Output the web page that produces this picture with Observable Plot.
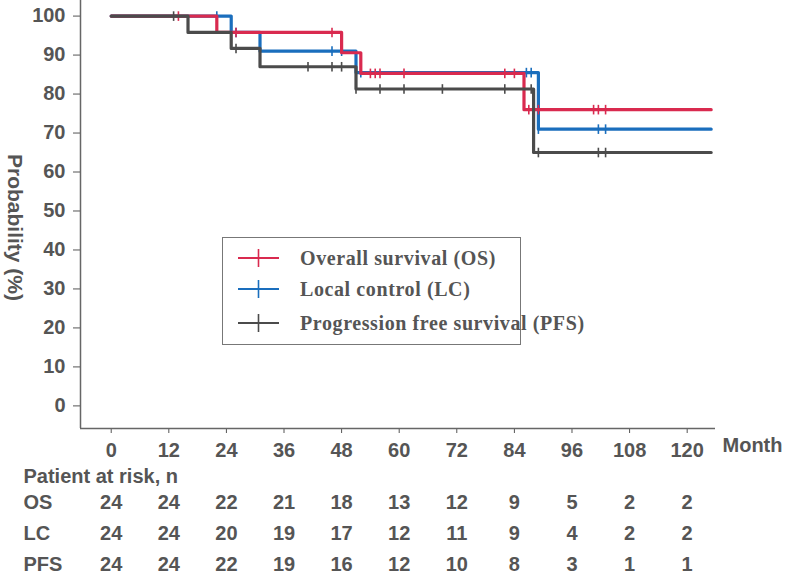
<!DOCTYPE html>
<html>
<head>
<meta charset="utf-8">
<script src="https://cdn.jsdelivr.net/npm/d3@7"></script>
<script src="https://cdn.jsdelivr.net/npm/@observablehq/plot@0.6"></script>
<style>
  body { margin: 0; background: #fff; }
  #wrap { position: relative; width: 787px; height: 574px; overflow: hidden; }
  #legend {
    position: absolute; left: 222px; top: 237px; width: 297px; height: 106px;
    border: 1.5px solid #777; background: #fff;
    font-family: "Liberation Serif", "Times New Roman", serif; font-weight: bold;
    font-size: 20px; letter-spacing: 0.6px; color: #555;
  }
  .lrow { position: absolute; left: 0; height: 24px; display: flex; align-items: center; white-space: nowrap; }
  .lrow svg { margin-left: 15px; margin-right: 20px; }
</style>
</head>
<body>
<div id="wrap"></div>
<script>
// ---------- data ----------
const xTicks = [0, 12, 24, 36, 48, 60, 72, 84, 96, 108, 120];
const yTicks = [0, 10, 20, 30, 40, 50, 60, 70, 80, 90, 100];
const followEnd = 125;

const seriesNames = ["Overall survival (OS)", "Local control (LC)", "Progression free survival (PFS)"];
const seriesKeys = ["OS", "LC", "PFS"];
const seriesColors = ["#d92a4f", "#1a6ebd", "#4b4b4b"];

const osTimes = [0, 22, 48, 52, 86];
const osSurv = [100, 95.8, 90.6, 85.3, 76.0];
const lcTimes = [0, 25, 31, 51, 89];
const lcSurv = [100, 95.8, 91.0, 85.5, 71.0];
const pfsTimes = [0, 16, 25, 31, 51, 88];
const pfsSurv = [100, 95.8, 91.7, 87.0, 81.3, 65.0];

const osCensor = [14, 26, 46, 54, 55, 56, 61, 82, 84, 87, 89, 100.5, 101.5, 103];
const lcCensor = [22, 26, 46, 48, 52, 86.5, 87.5, 89, 101.5, 103];
const pfsCensor = [13, 26, 41, 46, 48, 51, 56, 61, 69, 82, 87.5, 89, 101.5, 103];

const riskHeader = "Patient at risk, n";
const riskOS = [24, 24, 22, 21, 18, 13, 12, 9, 5, 2, 2];
const riskLC = [24, 24, 20, 19, 17, 12, 11, 9, 4, 2, 2];
const riskPFS = [24, 24, 22, 19, 16, 12, 10, 8, 3, 1, 1];

// ---------- build tables ----------
const allTimes = [osTimes, lcTimes, pfsTimes];
const allSurv = [osSurv, lcSurv, pfsSurv];
const allCensor = [osCensor, lcCensor, pfsCensor];
const allRisk = [riskOS, riskLC, riskPFS];

function survAt(times, surv, t) {
  let v = surv[0];
  for (let i = 0; i < times.length; i++) if (times[i] <= t) v = surv[i];
  return v;
}

const curves = [];
const censors = [];
seriesKeys.forEach((k, s) => {
  allTimes[s].forEach((t, i) => curves.push({key: k, t, p: allSurv[s][i]}));
  curves.push({key: k, t: followEnd, p: allSurv[s][allSurv[s].length - 1]});
  allCensor[s].forEach(t => censors.push({key: k, t, p: survAt(allTimes[s], allSurv[s], t)}));
});
const riskData = [];
seriesKeys.forEach((k, s) => allRisk[s].forEach((n, i) => riskData.push({row: k, t: xTicks[i], n})));

const colorOf = Object.fromEntries(seriesKeys.map((k, i) => [k, seriesColors[i]]));
const drawOrder = ["LC", "OS", "PFS"];

const xDomain = [-6.4, 125.9];
const yDomain = [-5.8, 104];

const vbar = {
  draw(ctx, size) {
    const r = Math.sqrt(size / Math.PI);
    ctx.moveTo(0, -r); ctx.lineTo(0, r);
  }
};

const font = "'Liberation Sans', Arial, sans-serif";
const textColor = "#555";

const curveMarks = [];
for (const k of drawOrder) {
  curveMarks.push(Plot.line(curves.filter(d => d.key === k), {
    x: "t", y: "p", curve: "step-after", stroke: colorOf[k], strokeWidth: 3.2
  }));
  curveMarks.push(Plot.dot(censors.filter(d => d.key === k), {
    x: "t", y: "p", symbol: vbar, r: 4.8, stroke: colorOf[k], strokeWidth: 1.6, fill: "none"
  }));
}

const main = Plot.plot({
  width: 787,
  height: 460,
  marginLeft: 80,
  marginRight: 72,
  marginTop: 0,
  marginBottom: 32,
  style: {fontFamily: font, fontSize: "20px", fontWeight: "bold", color: textColor, background: "white", overflow: "visible"},
  x: {domain: xDomain, ticks: xTicks, tickSize: 5, tickPadding: 9, label: null},
  y: {domain: yDomain, ticks: yTicks, tickSize: 7, tickPadding: 8, label: null},
  marks: [
    Plot.ruleX([xDomain[0]], {stroke: "#666", strokeWidth: 1.5}),
    Plot.ruleY([yDomain[0]], {stroke: "#666", strokeWidth: 1.5}),
    ...curveMarks,
    Plot.text(["Month"], {frameAnchor: "bottom-right", textAnchor: "start", lineAnchor: "middle", dx: 7, dy: 17, fill: textColor, fontSize: 20, fontWeight: "bold"}),
    Plot.text(["Probability (%)"], {frameAnchor: "left", textAnchor: "middle", lineAnchor: "middle", rotate: 90, dx: -66, dy: 13, fill: textColor, fontSize: 21, fontWeight: "bold"})
  ]
});

const risk = Plot.plot({
  width: 787,
  height: 114,
  marginLeft: 80,
  marginRight: 72,
  marginTop: 0,
  marginBottom: 0,
  style: {fontFamily: font, fontSize: "20px", fontWeight: "bold", color: textColor, background: "white", overflow: "visible"},
  x: {domain: xDomain, axis: null},
  y: {type: "point", domain: seriesKeys, range: [41, 104], padding: 0, axis: null},
  marks: [
    Plot.text([riskHeader], {frameAnchor: "top-left", textAnchor: "start", lineAnchor: "middle", dx: -57, dy: 16, fill: textColor, fontSize: 20, fontWeight: "bold"}),
    Plot.text(seriesKeys, {y: d => d, frameAnchor: "left", textAnchor: "start", dx: -57, fill: textColor, fontSize: 20, fontWeight: "bold"}),
    Plot.text(riskData, {x: "t", y: "row", text: "n", fill: textColor, fontSize: 20, fontWeight: "bold"})
  ]
});

const wrap = document.getElementById("wrap");
main.style.display = "block";
risk.style.display = "block";
wrap.appendChild(main);
wrap.appendChild(risk);

// legend
const legend = document.createElement("div");
legend.id = "legend";
const rowTops = [8, 39, 73];
seriesNames.forEach((name, i) => {
  const row = document.createElement("div");
  row.className = "lrow";
  row.style.top = rowTops[i] + "px";
  const c = seriesColors[i];
  row.innerHTML = `<svg width="42" height="20"><line x1="0" y1="10" x2="41" y2="10" stroke="${c}" stroke-width="2"/><line x1="20.5" y1="1" x2="20.5" y2="19" stroke="${c}" stroke-width="1.6"/></svg><span>${name}</span>`;
  legend.appendChild(row);
});
wrap.appendChild(legend);
</script>
</body>
</html>
